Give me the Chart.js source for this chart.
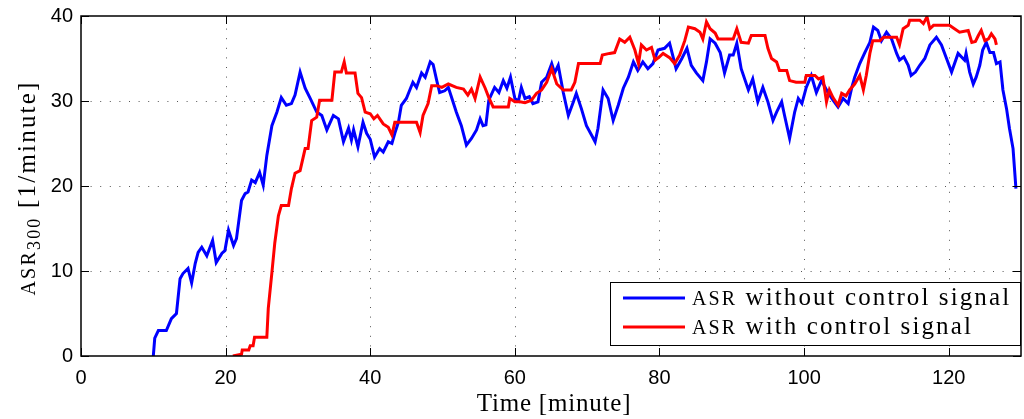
<!DOCTYPE html>
<html>
<head>
<meta charset="utf-8">
<script src="https://cdn.jsdelivr.net/npm/chart.js@4.4.0/dist/chart.umd.min.js"></script>
<style>
  html, body { margin: 0; padding: 0; background: #fff; }
  #wrap { width: 1024px; height: 419px; position: relative; }
</style>
</head>
<body>
<div id="wrap"><canvas id="chart"></canvas></div>
<script>
// ASR without control signal (blue)
const blueTime = [10.0, 10.2, 10.7, 11.8, 12.5, 13.2, 13.7, 14.1, 14.8, 15.3, 15.8, 16.2, 16.7, 17.4, 18.2, 18.7, 19.5, 19.9,
  20.4, 21.1, 21.5, 22.2, 22.7, 23.1, 23.6, 24.1, 24.7, 25.2, 25.7, 26.4, 27.1, 27.7, 28.4, 29.1, 29.6, 30.3, 31.0, 31.7,
  32.6, 33.3, 34.0, 34.9, 35.6, 36.3, 37.0, 37.4, 37.7, 38.3, 39.0, 39.5, 40.0, 40.6, 41.3, 41.8, 42.5, 43.0, 43.4, 43.9,
  44.3, 45.0, 45.9, 46.4, 47.1, 47.6, 48.3, 48.7, 49.2, 49.6, 50.3, 50.8, 51.3, 51.9, 52.6, 53.3, 54.0, 54.7, 55.2, 55.6,
  56.0, 56.4, 57.2, 57.8, 58.4, 58.9, 59.4, 60.0, 60.5, 60.9, 61.4, 62.0, 62.5, 63.2, 63.7, 64.4, 65.1, 65.5, 66.0, 66.7,
  67.4, 68.1, 68.5, 69.2, 69.9, 70.6, 71.1, 71.5, 72.2, 72.9, 73.6, 74.3, 75.0, 75.7, 76.4, 77.0, 77.7, 78.4, 79.1, 79.8,
  80.7, 81.4, 82.3, 83.1, 83.8, 84.4, 85.1, 86.0, 86.5, 87.0, 87.7, 88.4, 89.0, 89.7, 90.2, 90.7, 91.3, 92.3, 92.9, 93.6,
  94.3, 95.0, 95.7, 96.2, 96.9, 97.3, 98.0, 98.7, 99.2, 99.7, 100.3, 101.0, 101.7, 102.4, 103.3, 104.0, 104.7, 105.4,
  106.1, 106.6, 107.0, 107.7, 108.4, 109.1, 109.6, 110.2, 110.7, 111.4, 112.1, 112.8, 113.2, 113.8, 114.4, 114.8, 115.4,
  116.0, 116.7, 117.4, 118.3, 119.0, 119.7, 120.4, 121.3, 122.2, 122.4, 122.9, 123.4, 123.8, 124.3, 124.7, 125.2, 125.7,
  126.2, 126.6, 127.1, 127.5, 128.0, 128.4, 128.9, 129.3];
const blueRate = [0, 2.1, 3.0, 3.0, 4.4, 5.0, 9.1, 9.7, 10.3, 8.6, 10.9, 12.2, 12.8, 11.8, 13.6, 11.0, 12.1, 12.4,
  14.8, 13.0, 13.8, 18.3, 19.1, 19.3, 20.7, 20.4, 21.6, 20.1, 23.6, 27.1, 28.7, 30.4, 29.5, 29.7, 30.7, 33.4, 31.5, 30.3,
  28.7, 28.3, 26.6, 28.3, 27.9, 25.2, 26.8, 25.4, 26.6, 24.6, 27.5, 26.2, 25.5, 23.4, 24.4, 24.0, 25.2, 25.0, 26.2, 27.5,
  29.5, 30.3, 32.2, 31.6, 33.3, 32.8, 34.6, 34.3, 32.4, 31.0, 31.2, 31.6, 30.3, 28.7, 27.1, 24.8, 25.6, 26.6, 27.9, 27.1,
  27.2, 30.1, 31.6, 31.0, 32.4, 31.5, 32.8, 30.3, 30.0, 31.6, 30.3, 30.5, 29.7, 29.9, 32.2, 32.8, 34.4, 33.3, 34.2, 31.0,
  28.3, 29.9, 30.9, 29.1, 27.1, 26.0, 25.2, 26.8, 31.3, 30.3, 27.7, 29.5, 31.5, 32.8, 34.6, 33.6, 34.6, 33.8, 34.4, 36.0,
  36.2, 36.8, 33.8, 35.0, 36.2, 34.2, 33.3, 32.4, 34.6, 37.3, 36.8, 35.7, 33.3, 35.4, 35.4, 36.8, 33.8, 31.3, 32.6, 29.9,
  31.6, 29.9, 27.7, 28.7, 29.9, 28.3, 25.6, 28.7, 30.3, 29.7, 31.6, 33.0, 31.0, 32.4, 31.0, 30.1, 29.3, 30.3,
  29.7, 31.6, 32.8, 34.4, 35.7, 36.9, 38.7, 38.3, 37.1, 38.1, 37.3, 35.6, 34.8, 35.2, 34.2, 33.0, 33.4,
  34.2, 35.0, 36.6, 37.5, 36.6, 35.0, 33.4, 35.6, 34.8, 35.6, 33.4, 32.0, 32.8, 34.2, 36.0, 36.9, 35.7,
  35.7, 34.4, 34.6, 31.3, 29.1, 26.8, 24.4, 19.7];

// ASR with control signal (red)
const redTime = [21.0, 22.2, 22.3, 23.2, 23.4, 23.8, 24.0, 25.7, 25.9, 26.4, 26.8, 27.3, 27.7, 28.7, 29.1, 29.6, 30.3,
  31.0, 31.4, 31.9, 32.6, 33.0, 34.7, 35.1, 36.0, 36.4, 36.7, 37.9, 38.3, 38.8, 39.3, 40.0, 40.5, 41.0, 41.8, 42.5, 43.0,
  43.4, 46.4, 46.9, 47.3, 48.0, 48.5, 49.2, 49.9, 50.8, 51.9, 52.9, 53.5, 54.0, 54.5, 55.2, 55.9, 56.4, 57.0, 59.1, 59.3,
  60.0, 60.7, 61.4, 62.3, 63.0, 63.7, 64.4, 65.1, 65.8, 66.7, 67.8, 68.3, 68.8, 71.8, 72.1, 73.1, 73.8, 74.5, 75.2, 75.9,
  76.6, 77.1, 77.5, 78.2, 78.9, 79.4, 80.0, 80.5, 81.4, 82.1, 82.8, 83.5, 84.0, 84.9, 85.6, 86.0, 86.5, 87.0, 87.7, 88.1,
  90.2, 90.7, 91.3, 92.3, 92.7, 94.6, 95.0, 95.5, 96.2, 96.6, 97.6, 98.0, 98.9, 100.1, 100.3, 101.5, 102.0, 102.6, 103.1,
  103.5, 104.0, 104.7, 105.2, 105.8, 106.3, 107.0, 107.7, 108.2, 108.6, 109.1, 109.5, 110.5, 111.0, 112.8, 113.2, 113.7,
  114.4, 114.6, 116.0, 116.5, 117.0, 117.4, 117.9, 120.1, 120.8, 121.5, 122.7, 123.2, 123.7, 124.1, 124.5, 125.0, 125.5,
  125.9, 126.4, 126.6];
const redRate = [0, 0.2, 0.7, 0.7, 1.2, 1.2, 2.2, 2.2, 5.6, 9.8, 13.3, 16.5, 17.7, 17.7, 19.7, 21.5, 21.8,
  24.4, 24.4, 27.7, 28.1, 30.1, 30.1, 33.4, 33.4, 34.6, 33.3, 33.3, 30.9, 30.4, 28.7, 28.5, 27.9, 28.3, 27.3, 26.9, 26.0,
  27.5, 27.5, 26.3, 28.3, 29.7, 31.8, 31.8, 31.6, 32.0, 31.6, 31.4, 30.7, 31.4, 30.3, 32.8, 31.5, 30.4, 29.3, 29.3, 30.3,
  29.9, 29.9, 29.8, 30.1, 30.9, 31.3, 32.2, 33.8, 32.0, 31.3, 31.3, 32.2, 34.4, 34.4, 35.4, 35.6, 35.7, 37.3, 36.9, 37.5,
  36.0, 34.4, 36.6, 36.0, 36.3, 34.8, 35.2, 35.6, 35.1, 34.4, 35.4, 37.1, 38.7, 38.5, 38.1, 37.3, 39.3, 38.5, 38.0, 37.3,
  37.3, 38.5, 36.9, 36.8, 37.7, 37.7, 36.2, 35.0, 34.6, 33.6, 33.6, 32.4, 32.2, 32.2, 33.0, 33.0, 32.6, 32.8, 29.9,
  31.3, 30.4, 29.5, 30.9, 30.6, 31.3, 32.0, 33.0, 31.3, 33.0, 35.6, 37.1, 37.1, 37.5, 37.5, 36.6, 38.5,
  38.9, 39.5, 39.5, 39.1, 39.9, 38.5, 38.9, 38.9, 38.5, 38.1, 38.3, 36.9, 37.0, 37.7, 38.3, 37.1, 37.3,
  37.9, 37.3, 36.6];

const xTickValues = [0, 20, 40, 60, 80, 100, 120];
const yTickValues = [0, 10, 20, 30, 40];

const serif = "'Liberation Serif', 'DejaVu Serif', serif";
const sans = "'Liberation Sans', Arial, sans-serif";

// text made of runs with different sizes (small caps, subscript)
function runsWidth(ctx, runs, spacing) {
  let w = 0;
  ctx.letterSpacing = spacing + "px";
  runs.forEach(r => {
    ctx.font = r.size + "px " + serif;
    w += ctx.measureText(r.text).width;
  });
  ctx.letterSpacing = "0px";
  return w;
}
function drawRuns(ctx, runs, x, y, spacing) {
  ctx.letterSpacing = spacing + "px";
  runs.forEach(r => {
    ctx.font = r.size + "px " + serif;
    ctx.fillText(r.text, x, y + (r.dy || 0));
    x += ctx.measureText(r.text).width;
  });
  ctx.letterSpacing = "0px";
}

const decorations = {
  id: "decorations",
  beforeDatasetsDraw(chart) {
    const ctx = chart.ctx;
    const a = chart.chartArea;
    const xs = chart.scales.x, ys = chart.scales.y;
    ctx.save();
    ctx.strokeStyle = "#555";
    ctx.lineWidth = 1;
    ctx.setLineDash([1, 8.6]);
    xTickValues.forEach(v => {
      if (v === 0) return;
      const px = Math.round(xs.getPixelForValue(v)) + 0.5;
      ctx.beginPath();
      ctx.moveTo(px, a.bottom);
      ctx.lineTo(px, a.top);
      ctx.stroke();
    });
    yTickValues.forEach(v => {
      if (v === 0 || v === 40) return;
      const py = Math.round(ys.getPixelForValue(v)) + 0.5;
      ctx.beginPath();
      ctx.moveTo(a.left, py);
      ctx.lineTo(a.right, py);
      ctx.stroke();
    });
    ctx.restore();
  },
  afterDraw(chart) {
    const ctx = chart.ctx;
    const a = chart.chartArea;
    const xs = chart.scales.x, ys = chart.scales.y;
    ctx.save();
    ctx.setLineDash([]);
    ctx.strokeStyle = "#000";
    ctx.lineWidth = 1;
    // inward ticks on all four sides
    const tl = 8;
    ctx.beginPath();
    xTickValues.forEach(v => {
      const px = Math.round(xs.getPixelForValue(v)) + 0.5;
      ctx.moveTo(px, a.bottom); ctx.lineTo(px, a.bottom - tl);
      ctx.moveTo(px, a.top); ctx.lineTo(px, a.top + tl);
    });
    yTickValues.forEach(v => {
      const py = Math.round(ys.getPixelForValue(v)) + 0.5;
      ctx.moveTo(a.left, py); ctx.lineTo(a.left + tl, py);
      ctx.moveTo(a.right, py); ctx.lineTo(a.right - tl, py);
    });
    ctx.stroke();
    // axes box
    ctx.lineWidth = 1.5;
    ctx.strokeRect(a.left, a.top, a.right - a.left, a.bottom - a.top);

    ctx.fillStyle = "#000";
    ctx.textBaseline = "alphabetic";
    ctx.textAlign = "left";

    // x axis title
    const xRuns = [{ text: "Time [minute]", size: 25 }];
    const xw = runsWidth(ctx, xRuns, 0.8);
    drawRuns(ctx, xRuns, 554 - xw / 2, 411, 0.8);

    // y axis title
    const yRuns = [
      { text: "ASR", size: 20 },
      { text: "300", size: 18, dy: 5 },
      { text: " [1/minute]", size: 25 }
    ];
    const yw = runsWidth(ctx, yRuns, 2.2);
    ctx.save();
    ctx.translate(35, 188);
    ctx.rotate(-Math.PI / 2);
    drawRuns(ctx, yRuns, -yw / 2, 0, 2.2);
    ctx.restore();

    // legend
    const lx = 610.5, ly = 282.5, lw = 410, lh = 63;
    ctx.fillStyle = "#fff";
    ctx.fillRect(lx, ly, lw, lh);
    ctx.strokeStyle = "#000";
    ctx.lineWidth = 1;
    ctx.strokeRect(lx, ly, lw, lh);
    const rows = [
      { color: "#0000ff", y: 298, base: 305, rest: " without control signal" },
      { color: "#ff0000", y: 327, base: 334, rest: " with control signal" }
    ];
    rows.forEach(r => {
      ctx.strokeStyle = r.color;
      ctx.lineWidth = 3;
      ctx.beginPath();
      ctx.moveTo(623, r.y);
      ctx.lineTo(685, r.y);
      ctx.stroke();
      ctx.fillStyle = "#000";
      drawRuns(ctx, [{ text: "ASR", size: 20 }, { text: r.rest, size: 25 }], 692, r.base, 2.1);
    });
    ctx.restore();
  }
};

const ctx = document.getElementById("chart").getContext("2d");
new Chart(ctx, {
  type: "line",
  data: {
    datasets: [
      {
        label: "ASR with control signal",
        data: redTime.map((t, i) => ({ x: t, y: redRate[i] })),
        borderColor: "#ff0000",
        borderWidth: 3,
        pointRadius: 0,
        tension: 0,
        order: 0
      },
      {
        label: "ASR without control signal",
        data: blueTime.map((t, i) => ({ x: t, y: blueRate[i] })),
        borderColor: "#0000ff",
        borderWidth: 3,
        pointRadius: 0,
        tension: 0,
        order: 1
      }
    ]
  },
  options: {
    responsive: true,
    maintainAspectRatio: false,
    animation: false,
    devicePixelRatio: 1,
    layout: { padding: { left: 0, right: 3, top: 16, bottom: 0 } },
    plugins: {
      legend: { display: false },
      tooltip: { enabled: false }
    },
    scales: {
      x: {
        type: "linear",
        min: 0,
        max: 130,
        afterBuildTicks: s => { s.ticks = xTickValues.map(v => ({ value: v })); },
        afterFit: s => { s.height = 63; },
        grid: { display: false },
        border: { display: false },
        ticks: {
          color: "#000",
          font: { family: sans, size: 20 },
          padding: 2,
          maxRotation: 0
        }
      },
      y: {
        type: "linear",
        min: 0,
        max: 40,
        afterBuildTicks: s => { s.ticks = yTickValues.map(v => ({ value: v })); },
        afterFit: s => { s.width = 81; },
        grid: { display: false },
        border: { display: false },
        ticks: {
          color: "#000",
          font: { family: sans, size: 20 },
          padding: 0
        }
      }
    }
  },
  plugins: [decorations]
});
</script>
</body>
</html>
